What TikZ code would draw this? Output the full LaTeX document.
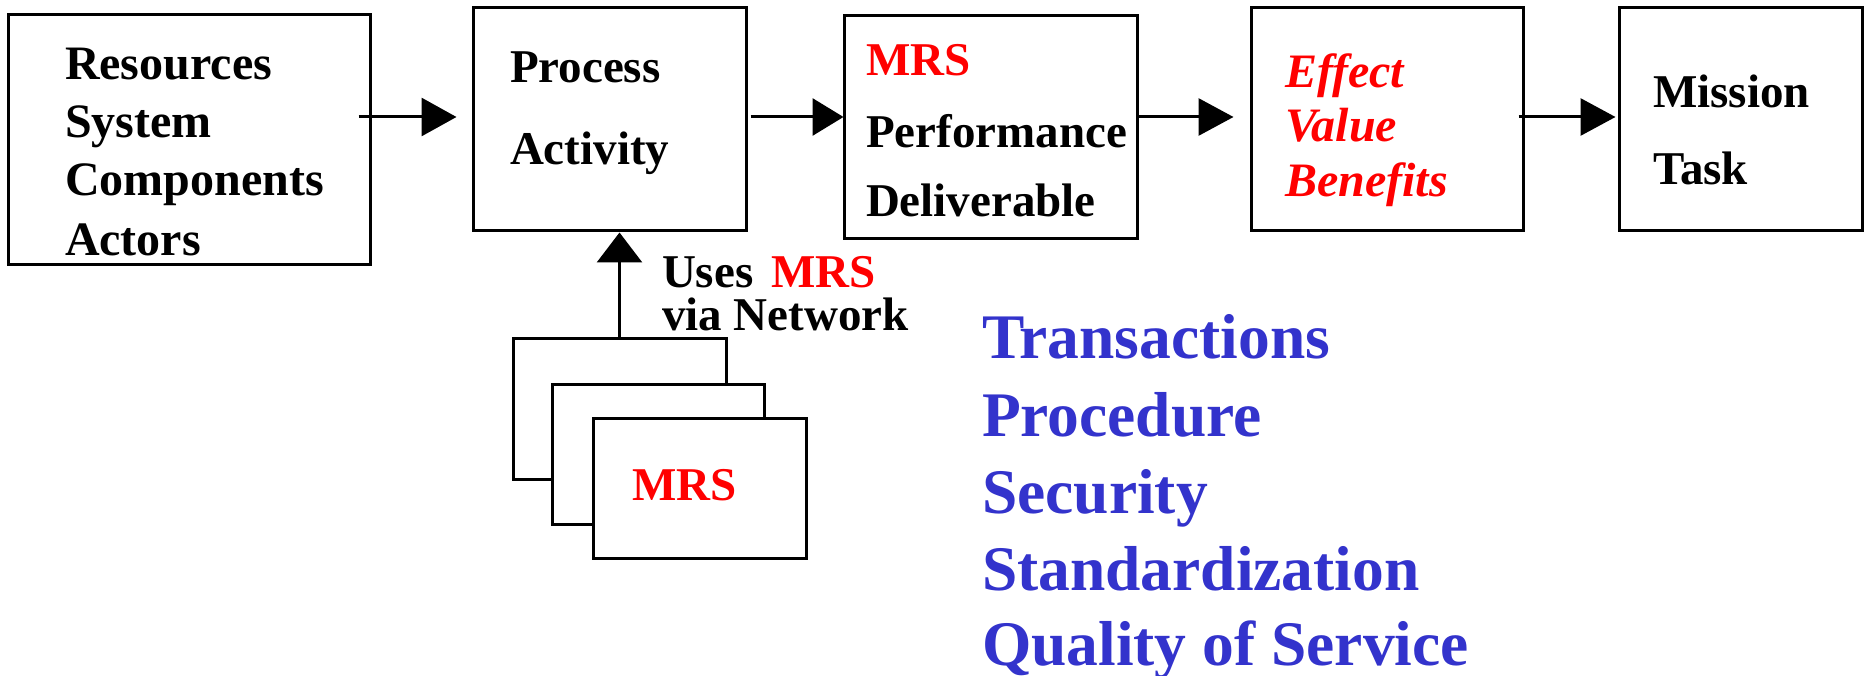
\documentclass[tikz,border=0pt]{standalone}
\usepackage{fontspec}
\setmainfont{Liberation Serif}
\usetikzlibrary{arrows.meta}
\definecolor{mrsred}{RGB}{255,0,0}
\definecolor{qosblue}{RGB}{51,51,204}
\tikzset{
  box/.style={draw, line width=3pt, inner sep=0pt, fill=white},
  txt/.style={anchor=base west, inner sep=0pt, outer sep=0pt},
  flow/.style={line width=3pt},
}
\begin{document}
\begin{tikzpicture}[x=1pt, y=-1pt]
\useasboundingbox (0,0) rectangle (1864,676);

% main chain of boxes
\node[box, minimum width=362pt, minimum height=250pt] (res) at (189,140) {};
\node[box, minimum width=273pt, minimum height=223pt] (proc) at (609.5,119.5) {};
\node[box, minimum width=293pt, minimum height=223pt] (perf) at (990.5,127.5) {};
\node[box, minimum width=272pt, minimum height=223pt] (eff) at (1387,119.5) {};
\node[box, minimum width=243pt, minimum height=223pt] (mis) at (1740.5,119.5) {};

% stacked MRS sheets
\node[box, minimum width=213pt, minimum height=140pt] (s1) at (619.5,409) {};
\node[box, minimum width=212pt, minimum height=140pt] (s2) at (658,454) {};
\node[box, minimum width=213pt, minimum height=140pt] (s3) at (699.5,488) {};

% box texts
\begin{scope}[every node/.style={txt, font=\fontsize{48}{56}\selectfont\bfseries}]
\node (t11) at (65,80)  {Resources};
\node (t12) at (65,138) {System};
\node (t13) at (65,196) {Components};
\node (t14) at (65,256) {Actors};
\end{scope}
\begin{scope}[every node/.style={txt, font=\fontsize{47}{56}\selectfont\bfseries}]
\node (t21) at (510,83)  {Process};
\node (t22) at (510,165) {Activity};
\node[text=mrsred] (t31) at (866,76) {MRS};
\node (t32) at (866,148) {Performance};
\node (t33) at (866,217) {Deliverable};
\node (t51) at (1653,108) {Mission};
\node (t52) at (1653,185) {Task};
\end{scope}
\begin{scope}[every node/.style={txt, text=mrsred, font=\fontsize{48}{56}\selectfont\bfseries\itshape}]
\node (t41) at (1285,88)  {Effect};
\node (t42) at (1285,142) {Value};
\node (t43) at (1285,197) {Benefits};
\end{scope}

% network label and sheet label
\begin{scope}[every node/.style={txt, font=\fontsize{47}{50}\selectfont\bfseries}]
\node (u1) at (662,288) {Uses\hspace{18pt}\textcolor{mrsred}{MRS}};
\node (u2) at (662,331) {via Network};
\node[text=mrsred] (sm) at (632,500) {MRS};
\end{scope}

% quality attributes
\begin{scope}[every node/.style={txt, text=qosblue, font=\fontsize{63.5}{76}\selectfont\bfseries}]
\node (q1) at (982,359) {Transactions};
\node (q2) at (982,436) {Procedure};
\node (q3) at (982,513) {Security};
\node (q4) at (982,590) {Standardization};
\node (q5) at (982,665) {Quality of Service};
\end{scope}

% arrows along the chain
\coordinate (lvl) at (0,117);
\draw[flow, -{Triangle[length=35pt,width=38pt]}, shorten >=15pt]
  ([xshift=-13pt]res.east |- lvl) -- (proc.west |- lvl);
\draw[flow, -{Triangle[length=31pt,width=37pt]}]
  ([xshift=3pt]proc.east |- lvl) -- ([xshift=1pt]perf.west |- lvl);
\draw[flow, -{Triangle[length=35pt,width=37pt]}, shorten >=16pt]
  ([xshift=-2pt]perf.east |- lvl) -- (eff.west |- lvl);
\draw[flow, -{Triangle[length=35pt,width=37pt]}, shorten >=2pt]
  ([xshift=-6pt]eff.east |- lvl) -- (mis.west |- lvl);

% sheets feed the process
\draw[flow, -{Triangle[length=30pt,width=45pt]}]
  (s1.north) -- (s1.north |- proc.south);
\end{tikzpicture}
\end{document}
